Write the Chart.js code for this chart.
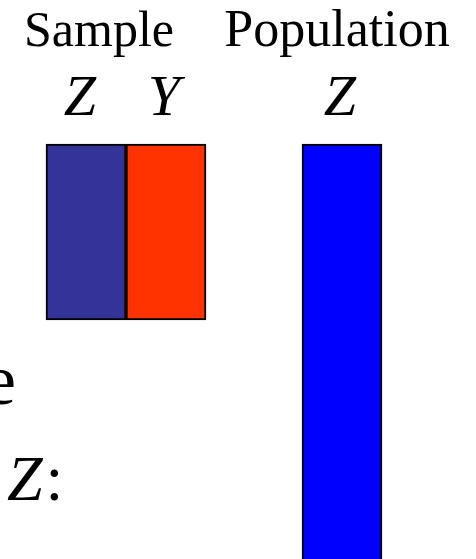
<!DOCTYPE html>
<html>
<head>
<meta charset="utf-8">
<script src="https://cdn.jsdelivr.net/npm/chart.js@4/dist/chart.umd.min.js"></script>
<style>
  html, body { margin: 0; padding: 0; background: #fff; overflow: hidden; }
  #wrap { width: 476px; height: 559px; position: relative; }
</style>
</head>
<body>
<div id="wrap"><canvas id="chart"></canvas></div>
<script>
// groups shown above the bars
const groupNames = ["Sample", "Population"];
// variable under each bar
const varNames = ["Z", "Y", "Z"];
// bar positions along x (units of one bar width)
const barX = [1, 2, 4.2];
// bar extent: [top, bottom] in sample-size units (population runs off the page)
const barStart = [0, 0, 0];
const barEnd = [1, 1, 3];
const barColors = ["#333399", "#FF3300", "#0000FF"];

const serif = '"Liberation Serif", "Times New Roman", serif';

const textPlugin = {
    id: "slideText",
    afterDraw(chart) {
        const ctx = chart.ctx;
        const xs = chart.scales.x;
        ctx.save();
        ctx.fillStyle = "#000";
        ctx.textBaseline = "alphabetic";
        ctx.textAlign = "center";

        // group headers
        ctx.font = "50px " + serif;
        const sampleMid = (xs.getPixelForValue(barX[0]) + xs.getPixelForValue(barX[1])) / 2;
        ctx.fillText(groupNames[0], sampleMid - 27, 46);
        ctx.font = "52px " + serif;
        ctx.fillText(groupNames[1], xs.getPixelForValue(barX[2]) - 5, 46);

        // variable names
        ctx.font = "italic 58px " + serif;
        const shift = [-6, -2, -2];
        varNames.forEach((v, i) => {
            ctx.fillText(v, xs.getPixelForValue(barX[i]) + shift[i], 115);
        });

        // cut-off body text on the left
        ctx.textAlign = "right";
        ctx.font = "72px " + serif;
        ctx.fillText("e", 16, 404);
        ctx.textAlign = "left";
        ctx.font = "italic 64px " + serif;
        ctx.fillText("Z", 7, 500);
        const zw = ctx.measureText("Z").width;
        ctx.font = "64px " + serif;
        ctx.fillText(":", 7 + zw + 3, 500);
        ctx.restore();
    }
};

const points = barX.map((x, i) => ({ x: x, y: [barStart[i], barEnd[i]] }));

new Chart(document.getElementById("chart"), {
    type: "bar",
    data: {
        datasets: [{
            data: points,
            backgroundColor: barColors,
            borderColor: "#000",
            borderWidth: 2,
            borderSkipped: false,
            barThickness: 80
        }]
    },
    options: {
        responsive: true,
        maintainAspectRatio: false,
        animation: false,
        layout: { padding: 0 },
        plugins: {
            legend: { display: false },
            tooltip: { enabled: false }
        },
        scales: {
            x: {
                type: "linear",
                display: false,
                offset: false,
                min: -0.075,
                max: 5.875
            },
            y: {
                display: false,
                reverse: true,
                min: -144 / 176,
                max: 415 / 176
            }
        }
    },
    plugins: [textPlugin]
});
</script>
</body>
</html>
